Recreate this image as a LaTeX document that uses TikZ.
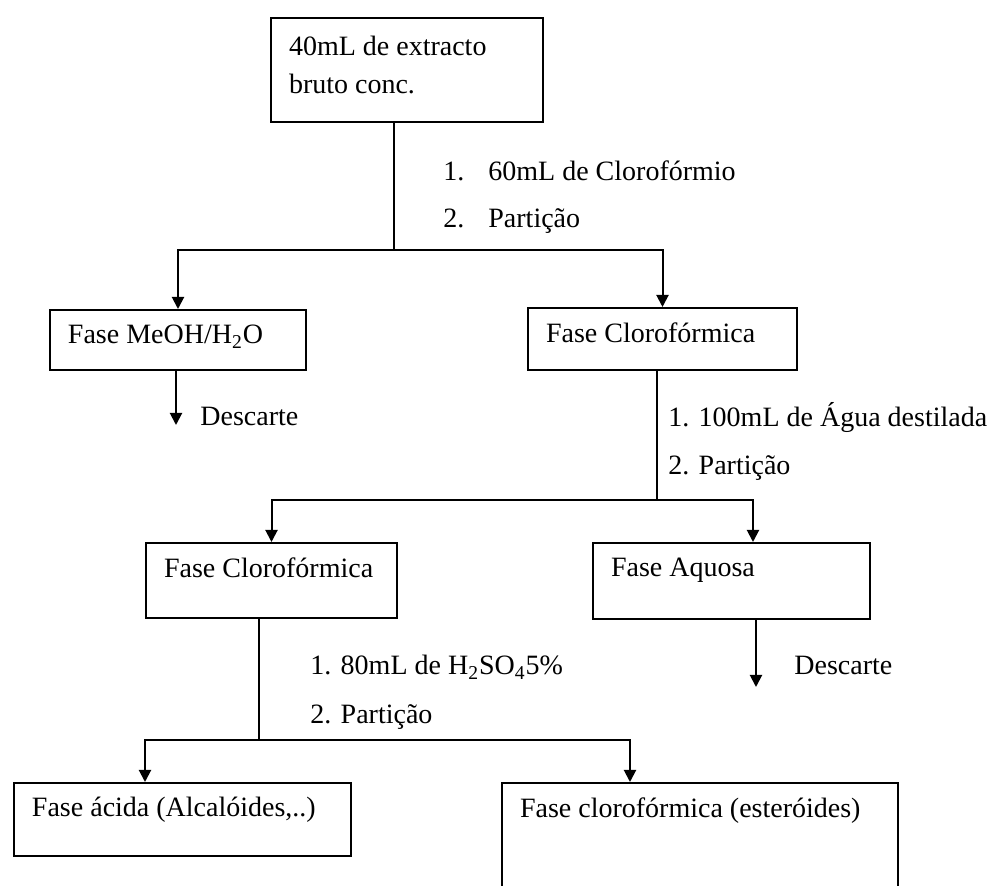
\documentclass[tikz,border=0pt]{standalone}
\usepackage{fontspec}
\setmainfont{Liberation Serif}
\usetikzlibrary{arrows.meta}

\begin{document}
\begin{tikzpicture}[x=0.5pt, y=-0.5pt,
        every node/.style={font=\fontsize{14}{19}\selectfont},
        caixa/.style={draw, line width=1pt, anchor=north west, align=left, inner ysep=0pt, inner xsep=9pt,
            execute at begin node={\spaceskip=0pt\xspaceskip=0pt}},
        linha/.style={line width=1pt},
        seta/.style={line width=1pt, -{Triangle[length=6pt, width=6pt]}},
        rotulo/.style={anchor=base west, inner sep=0pt}]

        \useasboundingbox (0, 0) rectangle (987, 886);

        \node[caixa, text width=118pt, text height=19pt, text depth=33pt] (topo) at (270, 17) {40mL de extracto\\bruto conc.};

        \node[caixa, text width=110pt, text height=17pt, text depth=13pt] (meoh) at (49, 309) {Fase MeOH/H\textsubscript{2}O};
        \node[caixa, text width=116.5pt, text height=17.5pt, text depth=13.5pt] (cloro1) at (527, 307) {Fase Clorofórmica};

        \node[caixa, text width=107.5pt, text height=17.5pt, text depth=20pt] (cloro2) at (145, 542) {Fase Clorofórmica};
        \node[caixa, text width=120.5pt, text height=17pt, text depth=21pt] (aquosa) at (592, 542) {Fase Aquosa};

        \node[caixa, text width=150.5pt, text height=17pt, text depth=19.5pt] (acida) at (13, 782) {Fase ácida (Alcalóides,..)};
        \node[caixa, text width=180pt, text height=17.5pt, text depth=55pt] (cloro3) at (501, 782) {Fase clorofórmica (esteróides)};

        \coordinate (j1) at (394, 250);
        \draw[linha] (j1 |- topo.south) -- (j1);
        \draw[seta] (j1) -| (meoh.north);
        \draw[seta] (j1) -| (cloro1.north);

        \node[rotulo] (p1) at (443, 181) {\makebox[22.5pt][l]{1.}60mL de Clorofórmio};
        \node[rotulo] (p2) at (443, 228) {\makebox[22.5pt][l]{2.}Partição};

        \coordinate (d1) at (176, 425);
        \draw[seta] (d1 |- meoh.south) -- (d1);
        \node[rotulo] (x1) at (200, 426) {Descarte};

        \coordinate (j2) at (657, 500);
        \coordinate (a2) at (753, 542);
        \draw[linha] (j2 |- cloro1.south) -- (j2);
        \draw[seta] (j2) -| (cloro2.north);
        \draw[seta] (j2) -| (a2);

        \node[rotulo] (q1) at (668, 427) {1. 100mL de Água destilada};
        \node[rotulo] (q2) at (668, 475) {2. Partição};

        \coordinate (d2) at (756, 687);
        \draw[seta] (d2 |- aquosa.south) -- (d2);
        \node[rotulo] (x2) at (794, 675) {Descarte};

        \coordinate (j3) at (259, 740);
        \coordinate (a3) at (145, 782);
        \coordinate (a4) at (630, 782);
        \draw[linha] (j3 |- cloro2.south) -- (j3);
        \draw[seta] (j3) -| (a3);
        \draw[seta] (j3) -| (a4);

        \node[rotulo] (r1) at (310, 675) {1. 80mL de H\textsubscript{2}SO\textsubscript{4}5\%};
        \node[rotulo] (r2) at (310, 724) {2. Partição};

    \end{tikzpicture}
\end{document}
